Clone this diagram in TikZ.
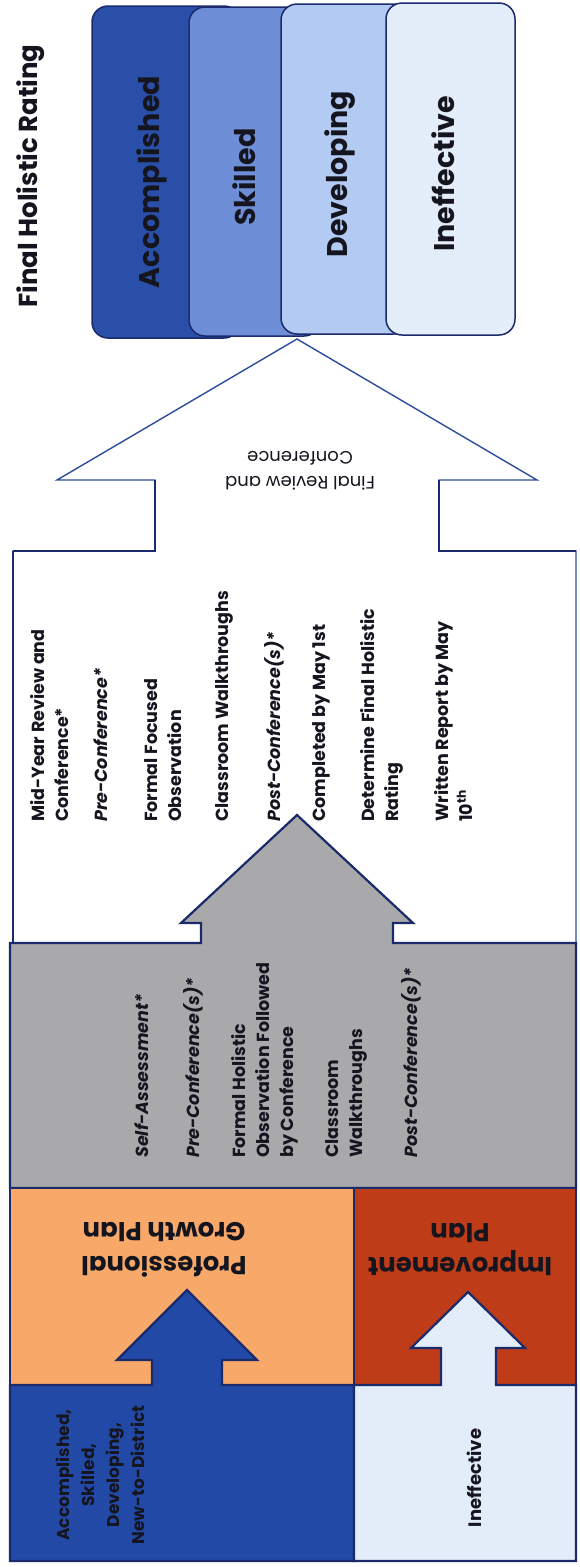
\documentclass[tikz,border=0pt]{standalone}
\usepackage{fontspec}
\setmainfont{Poppins}
\definecolor{cNavy}{HTML}{1B2A6B}
\definecolor{cBlue}{HTML}{2349A6}
\definecolor{cAcc}{HTML}{2A4FA8}
\definecolor{cSkill}{HTML}{6E8ED8}
\definecolor{cDev}{HTML}{B3CAF2}
\definecolor{cInef}{HTML}{E4EEFB}
\definecolor{cOrange}{HTML}{F8A96A}
\definecolor{cRed}{HTML}{BE3C18}
\definecolor{cGrey}{HTML}{A9A9AB}
\definecolor{cLight}{HTML}{E3EDF9}
\definecolor{cLine}{HTML}{2C4C9C}
\definecolor{cText}{HTML}{15151F}
\begin{document}
\begin{tikzpicture}[x=1pt,y=-1pt,line join=miter,
  outl/.style={draw=cNavy,line width=2.2pt},
  ratebox/.style={draw=cNavy,line width=1.5pt,rounded corners=16pt},
  vitem/.style={rotate=90,inner sep=0pt,anchor=north west,align=left,text=cText,
    font=\fontsize{17.5}{24}\selectfont\bfseries},
  ratelabel/.style={rotate=90,inner sep=0pt,text=cText,font=\fontsize{28.5}{30}\selectfont\bfseries},
  flipped/.style={rotate=180,inner sep=0pt,align=center,text=cText,font=\fontsize{26}{34}\selectfont\bfseries}]
\useasboundingbox (0,0) rectangle (579,1567);
\fill[white] (0,0) rectangle (579,1567);

% big white arrow + white box
\path[draw=cLine,line width=1.4pt,fill=white]
  (13,551) -- (155,551) -- (155,480) -- (57,480) -- (297,339) -- (537,480) -- (439,480) -- (439,551) -- (576,551) -- (576,943) -- (13,943) -- cycle;
\draw[cNavy,line width=2.2pt] (13,551) -- (13,943);
\draw[cNavy,line width=2.2pt] (13,551) -- (155,551) -- (155,480);
\draw[cNavy,line width=2.2pt] (439,480) -- (439,551) -- (576,551);

% rating boxes
\draw[ratebox,fill=cAcc] (92,6) rectangle (240,338);
\draw[ratebox,fill=cSkill] (189,7) rectangle (320,336);
\draw[ratebox,fill=cDev] (281,4) rectangle (410,334);
\draw[ratebox,fill=cInef] (386,3) rectangle (515,335);

\node[rotate=90,inner sep=0pt,text=cText,font=\fontsize{26}{30}\selectfont\bfseries] (title) at (31,176) {Final Holistic Rating};
\node[ratelabel] (acc) at (152,182) {Accomplished};
\node[ratelabel] (ski) at (244,177) {Skilled};
\node[ratelabel] (dev) at (340,174) {Developing};
\node[ratelabel] (ine) at (443,174) {Ineffective};

\node[rotate=180,inner sep=0pt,align=center,text=cText,font=\fontsize{18}{25}\selectfont] (frc) at (300,471) {Final Review and\\Conference};

% white box items
\node[vitem] (w1) at (30,822) {Mid-Year Review and\\Conference*};
\node[vitem] (w2) at (94,822) {\itshape Pre-Conference*};
\node[vitem] (w3) at (144,822) {Formal Focused\\Observation};
\node[vitem] (w4) at (215,822) {Classroom Walkthroughs};
\node[vitem] (w5) at (264,822) {\itshape Post-Conference(s)*};
\node[vitem] (w6) at (312,822) {Completed by May 1st};
\node[vitem] (w7) at (360,822) {Determine Final Holistic\\Rating};
\node[vitem] (w8) at (434,822) {Written Report by May\\10\textsuperscript{th}};

% grey box with arrow
\path[outl,fill=cGrey]
  (10,1188) -- (10,943) -- (201,943) -- (201,923) -- (181,923) -- (297,815) -- (413,923) -- (393,923) -- (393,943) -- (576,943) -- (576,1188) -- cycle;

\node[vitem] (g1) at (135,1158) {\itshape Self-Assessment*};
\node[vitem] (g2) at (183,1158) {\itshape Pre-Conference(s)*};
\node[vitem] (g3) at (231,1158) {Formal Holistic\\Observation Followed\\by Conference};
\node[vitem] (g4) at (325,1158) {Classroom\\Walkthroughs};
\node[vitem] (g5) at (401,1158) {\itshape Post-Conference(s)*};

% plans
\path[outl,fill=cOrange] (10,1188) rectangle (354,1385);
\path[outl,fill=cRed] (354,1188) rectangle (576,1385);
\node[flipped] (pgp) at (164,1250) {Professional\\Growth Plan};
\node[flipped] (ip) at (460,1250) {Improvement\\Plan};

% bottom boxes with arrows
\path[outl,fill=cBlue]
  (10,1561) -- (10,1385) -- (152,1385) -- (152,1360) -- (117,1360) -- (187,1290) -- (257,1360) -- (222,1360) -- (222,1385) -- (354,1385) -- (354,1561) -- cycle;
\path[outl,fill=cLight]
  (354,1561) -- (354,1385) -- (441,1385) -- (441,1348) -- (411,1348) -- (468,1292) -- (525,1348) -- (496,1348) -- (496,1385) -- (576,1385) -- (576,1561) -- cycle;

\node[rotate=90,inner sep=0pt,align=center,text=cText,font=\fontsize{17}{25}\selectfont\bfseries] (grp1) at (100,1475) {Accomplished,\\Skilled,\\Developing,\\New-to-District};
\node[rotate=90,inner sep=0pt,text=cText,font=\fontsize{18}{20}\selectfont\bfseries] (grp2) at (474,1478) {Ineffective};
\end{tikzpicture}
\end{document}
